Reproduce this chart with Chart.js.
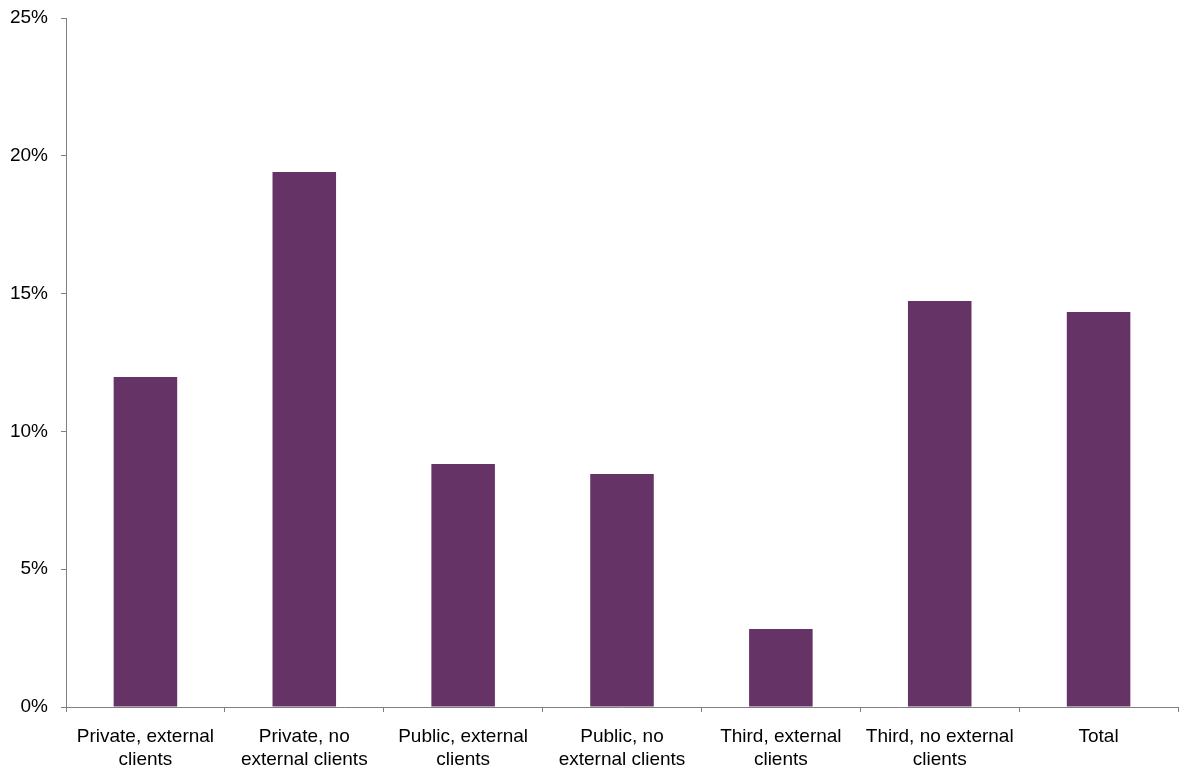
<!DOCTYPE html>
<html>
<head>
<meta charset="utf-8">
<script src="https://cdn.jsdelivr.net/npm/chart.js@4/dist/chart.umd.min.js"></script>
<style>
  html, body { margin: 0; padding: 0; background: #fff; }
  #wrap { width: 1183px; height: 769px; }
</style>
</head>
<body>
<div id="wrap"><canvas id="chartClientes"></canvas></div>
<script>
const categorias = [
    ['Private, external', 'clients'],
    ['Private, no', 'external clients'],
    ['Public, external', 'clients'],
    ['Public, no', 'external clients'],
    ['Third, external', 'clients'],
    ['Third, no external', 'clients'],
    'Total'
]
const valores = [11.97, 19.41, 8.82, 8.45, 2.83, 14.73, 14.33]
const ticksY = [0, 5, 10, 15, 20, 25]

const canvas = document.getElementById('chartClientes')
const context = canvas.getContext('2d')

Chart.defaults.font.family = '"Liberation Sans", Arial, sans-serif'
Chart.defaults.font.size = 19
Chart.defaults.color = '#000'

const chartClientes = new Chart(context, {
    type: 'bar',
    data: {
        labels: categorias,
        datasets: [
            {
                label: 'Share',
                data: valores,
                backgroundColor: '#663366',
                categoryPercentage: 1,
                barPercentage: 0.4
            }
        ]
    },
    options: {
        responsive: true,
        maintainAspectRatio: false,
        animation: false,
        layout: {
            padding: { top: 18, right: 5, left: 0, bottom: 0 }
        },
        plugins: {
            legend: { display: false },
            tooltip: { enabled: false }
        },
        scales: {
            x: {
                offset: true,
                grid: {
                    offset: true,
                    drawOnChartArea: false,
                    drawTicks: true,
                    tickLength: 5,
                    color: '#808080'
                },
                border: { color: '#808080', width: 1 },
                ticks: {
                    padding: 14,
                    maxRotation: 0,
                    autoSkip: false,
                    color: '#000',
                    font: { size: 19, lineHeight: 1.17 }
                },
                afterFit: (scale) => { scale.height = 62 }
            },
            y: {
                min: 0,
                max: 25,
                afterBuildTicks: (scale) => {
                    scale.ticks = ticksY.map(v => ({ value: v }))
                },
                grid: {
                    drawOnChartArea: false,
                    drawTicks: true,
                    tickLength: 5,
                    color: '#808080'
                },
                border: { color: '#808080', width: 1 },
                ticks: {
                    padding: 13,
                    color: '#000',
                    font: { size: 19, lineHeight: 0.6 },
                    callback: (v) => v + '%'
                },
                afterFit: (scale) => {
                    scale.width = 66
                    scale.paddingTop = 0
                    scale.paddingBottom = 0
                }
            }
        }
    }
})
</script>
</body>
</html>
